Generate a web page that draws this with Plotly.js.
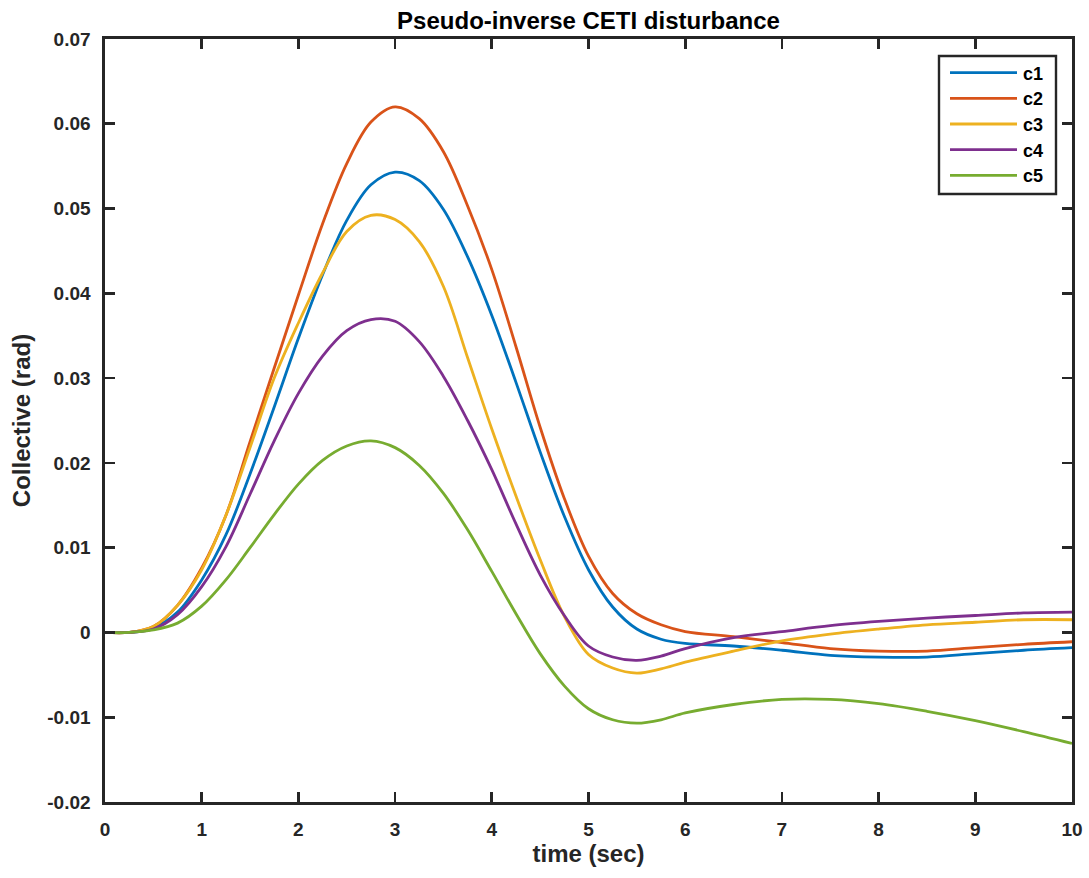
<!DOCTYPE html>
<html>
<head>
<meta charset="utf-8">
<script src="https://cdn.plot.ly/plotly-3.0.1.min.js"></script>
<style>
html,body{margin:0;padding:0;background:#fff;}
#chart{width:1089px;height:878px;}
</style>
</head>
<body>
<div id="chart"></div>
<script>
// ---- data ----
const time = [0,0.25,0.5,0.75,1,1.25,1.5,1.75,2,2.25,2.5,2.75,3,3.25,3.5,3.75,4,4.25,4.5,4.75,5,5.25,5.5,5.75,6,6.5,7,7.5,8,8.5,9,9.5,10];
const c1 = [0,0,0.0005,0.0024,0.0062,0.0115,0.0187,0.0266,0.0347,0.0422,0.0486,0.0528,0.0543,0.0533,0.0499,0.0443,0.0374,0.0295,0.0213,0.0137,0.0074,0.0030,0.0004,-0.0008,-0.0013,-0.0016,-0.0021,-0.0027,-0.0029,-0.0029,-0.0025,-0.0021,-0.0018];
const c2 = [0,0,0.0007,0.0032,0.0076,0.0138,0.0225,0.0312,0.0398,0.0482,0.0553,0.0602,0.0620,0.0606,0.0567,0.0503,0.0428,0.0337,0.0242,0.0158,0.0090,0.0046,0.0022,0.0009,0.0001,-0.0005,-0.0012,-0.0019,-0.0022,-0.0022,-0.0018,-0.0014,-0.0011];
const c3 = [0,0,0.0007,0.0032,0.0074,0.0138,0.0218,0.0300,0.0365,0.0424,0.0473,0.0492,0.0487,0.0461,0.0408,0.0324,0.0240,0.0161,0.0086,0.0019,-0.0026,-0.0042,-0.0048,-0.0043,-0.0035,-0.0022,-0.0010,-0.0002,0.0004,0.0009,0.0012,0.0015,0.0015];
const c4 = [0,0,0.0004,0.0021,0.0054,0.0101,0.0163,0.0226,0.0282,0.0326,0.0356,0.0369,0.0367,0.0343,0.0302,0.0250,0.0192,0.0128,0.0068,0.0020,-0.0016,-0.0029,-0.0033,-0.0028,-0.0019,-0.0006,0.0001,0.0008,0.0013,0.0017,0.0020,0.0023,0.0024];
const c5 = [0,0,0.0003,0.0011,0.0031,0.0062,0.0100,0.0139,0.0175,0.0203,0.0220,0.0226,0.0218,0.0197,0.0164,0.0121,0.0072,0.0022,-0.0025,-0.0063,-0.0090,-0.0103,-0.0107,-0.0103,-0.0095,-0.0085,-0.0079,-0.0079,-0.0084,-0.0093,-0.0104,-0.0117,-0.0131];
const seriesNames = ["c1","c2","c3","c4","c5"];
const xTickVals = [0,1,2,3,4,5,6,7,8,9,10];
const xTickText = ["0","1","2","3","4","5","6","7","8","9","10"];
const yTickVals = [-0.02,-0.01,0,0.01,0.02,0.03,0.04,0.05,0.06,0.07];
const yTickText = ["-0.02","-0.01","0","0.01","0.02","0.03","0.04","0.05","0.06","0.07"];

// ---- styling ----
const colors = ["#0072BD","#D95319","#EDB120","#7E2F8E","#77AC30"];
const series = [c1,c2,c3,c4,c5];
const FONT = "Liberation Sans, Arial, sans-serif";
const axisColor = "#262626";

const traces = series.map((ys,i)=>({
  x: time, y: ys, type:"scatter", mode:"lines", name: seriesNames[i],
  line:{color:colors[i], width:2.8, shape:"spline", smoothing:1}
}));

// legend drawn in paper coordinates (plot area 105..1072 x 39..802 px)
const PL=105, PW=967, PT=39, PH=763;
const px2x = p => (p-PL)/PW;
const py2y = p => (PT+PH-p)/PH;
const shapes = [{
  type:"rect", xref:"paper", yref:"paper",
  x0:px2x(939), x1:px2x(1056), y0:py2y(194), y1:py2y(56),
  line:{color:axisColor, width:2.4}, fillcolor:"#ffffff", layer:"above"
}];
const annotations = [];
seriesNames.forEach((n,i)=>{
  const yy = 72.7 + i*25.65;
  shapes.push({type:"line", xref:"paper", yref:"paper",
    x0:px2x(950), x1:px2x(1017), y0:py2y(yy), y1:py2y(yy),
    line:{color:colors[i], width:2.8}, layer:"above"});
  annotations.push({xref:"paper", yref:"paper", x:px2x(1021), y:py2y(yy+1),
    xanchor:"left", yanchor:"middle", text:"<b>"+n+"</b>", showarrow:false,
    font:{family:FONT, size:18, color:"#000"}});
});

const axisCommon = {
  showline:true, linecolor:axisColor, linewidth:2.6, mirror:"ticks",
  ticks:"inside", ticklen:10, tickwidth:2.6, tickcolor:axisColor,
  showgrid:false, zeroline:false,
  tickfont:{family:FONT, size:19, color:axisColor, weight:"bold"}
};

const layout = {
  width:1089, height:878,
  margin:{l:PL, r:1089-PL-PW, t:PT, b:878-PT-PH},
  paper_bgcolor:"#fff", plot_bgcolor:"#fff",
  showlegend:false,
  title:{text:"<b>Pseudo-inverse CETI disturbance</b>", x:(PL+PW/2)/1089, xanchor:"center",
         y:1-21/878, yanchor:"middle", font:{family:FONT, size:24, color:"#000"}},
  xaxis:Object.assign({}, axisCommon, {
    range:[0,10], tickmode:"array", tickvals:xTickVals, ticktext:xTickText,
    ticklabelstandoff:9,
    title:{text:"<b>time (sec)</b>", font:{family:FONT, size:24, color:axisColor}, standoff:6}
  }),
  yaxis:Object.assign({}, axisCommon, {
    range:[-0.02,0.07], tickmode:"array", tickvals:yTickVals, ticktext:yTickText,
    ticklabelstandoff:8,
    title:{text:"<b>Collective (rad)</b>", font:{family:FONT, size:24, color:axisColor}, standoff:10}
  }),
  shapes:shapes, annotations:annotations
};

Plotly.newPlot("chart", traces, layout, {staticPlot:true, displayModeBar:false});
</script>
</body>
</html>
